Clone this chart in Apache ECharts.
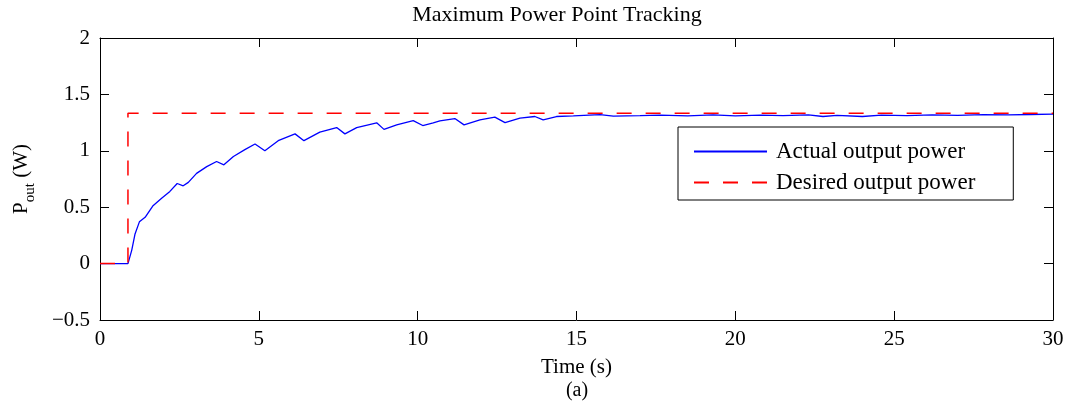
<!DOCTYPE html>
<html>
<head>
<meta charset="utf-8">
<script src="https://cdn.jsdelivr.net/npm/echarts@6/dist/echarts.min.js"></script>
<style>
  html, body { margin: 0; padding: 0; background: #fff; }
  #chart { width: 1069px; height: 411px; }
</style>
</head>
<body>
<div id="chart"></div>
<script>
// Measured output power of the MPPT controller (time in s, power in W)
const timeSec = [0, 0.88, 1.0, 1.1, 1.24, 1.42, 1.66, 1.94, 2.2, 2.43, 2.62, 2.78, 3.04, 3.36, 3.67, 3.9,
  4.2, 4.56, 4.88, 5.19, 5.61, 6.14, 6.42, 6.92, 7.45, 7.71, 8.08, 8.71, 8.94, 9.34, 9.86, 10.16,
  10.49, 10.7, 11.17, 11.46, 11.96, 12.43, 12.75, 13.22, 13.69, 13.95, 14.37, 14.9, 15.74, 16.16,
  17.0, 17.63, 18.5, 19.3, 20.0, 20.8, 21.5, 22.3, 22.76, 23.2, 24.0, 24.6, 25.4, 26.2, 27.0,
  27.8, 28.6, 29.3, 30];
const actualPower = [0, 0, 0.12, 0.26, 0.37, 0.41, 0.51, 0.58, 0.64, 0.71, 0.69, 0.72, 0.80, 0.86, 0.905, 0.876,
  0.95, 1.01, 1.06, 1.0, 1.09, 1.15, 1.09, 1.165, 1.206, 1.15, 1.206, 1.248, 1.19, 1.23, 1.268, 1.224,
  1.248, 1.265, 1.286, 1.23, 1.274, 1.298, 1.25, 1.29, 1.304, 1.274, 1.304, 1.31, 1.32, 1.307,
  1.312, 1.316, 1.31, 1.318, 1.31, 1.316, 1.312, 1.318, 1.304, 1.314, 1.304, 1.316, 1.312, 1.318, 1.314,
  1.32, 1.318, 1.322, 1.325];

// Reference (desired) output power: step at t = 0.88 s
const desiredTime = [0, 0.88, 0.88, 30];
const desiredPower = [0, 0, 1.333, 1.333];

const seriesNames = ['Actual output power', 'Desired output power'];
const chartTitle = 'Maximum Power Point Tracking';
const xTitle = 'Time (s)';
const caption = '(a)';

const FONT = '"Liberation Serif", "Times New Roman", serif';

const zip = (xs, ys) => xs.map((x, i) => [x, ys[i]]);
const minusFmt = v => String(v).replace('-', '\u2212');

const baseAxis = {
  axisLine: { show: true, onZero: false, lineStyle: { color: '#000', width: 1 } },
  axisTick: { show: true, inside: true, length: 9, lineStyle: { color: '#000', width: 1 } },
  splitLine: { show: false }
};

const chart = echarts.init(document.getElementById('chart'), null, { renderer: 'canvas' });
chart.setOption({
  backgroundColor: '#fff',
  animation: false,
  textStyle: { fontFamily: FONT, color: '#000' },
  graphic: [
    {
      type: 'text', x: 557, y: 4,
      style: { text: chartTitle, font: '22px ' + FONT, fill: '#000', align: 'center', verticalAlign: 'top' }
    },
    {
      type: 'text', x: 577, y: 381,
      style: { text: caption, font: '20px ' + FONT, fill: '#000', align: 'center', verticalAlign: 'top' }
    }
  ],
  grid: { left: 100, right: 16, top: 38, bottom: 91, containLabel: false },
  legend: {
    orient: 'vertical',
    left: 678, top: 127,
    padding: [13, 38, 6, 15],
    itemGap: 8,
    itemWidth: 73, itemHeight: 14,
    backgroundColor: '#fff',
    borderColor: '#000', borderWidth: 1, borderRadius: 0,
    itemStyle: { opacity: 0 },
    textStyle: { fontFamily: FONT, fontSize: 23, color: '#000', padding: [0, 0, 0, 4] },
    data: seriesNames
  },
  xAxis: [
    Object.assign({}, baseAxis, {
      type: 'value', min: 0, max: 30, interval: 5,
      axisLabel: { fontFamily: FONT, fontSize: 21, color: '#000', margin: 9 },
      name: xTitle, nameLocation: 'middle', nameGap: 37,
      nameTextStyle: { fontFamily: FONT, fontSize: 21, color: '#000' }
    }),
    Object.assign({}, baseAxis, {
      type: 'value', min: 0, max: 30, interval: 5, position: 'top',
      axisLabel: { show: false }
    })
  ],
  yAxis: [
    Object.assign({}, baseAxis, {
      type: 'value', min: -0.5, max: 2, interval: 0.5,
      axisLabel: { fontFamily: FONT, fontSize: 21, color: '#000', margin: 10, formatter: minusFmt },
      name: '{p|P}{sub|out}{p| (W)}', nameLocation: 'middle', nameGap: 62,
      nameTextStyle: {
        fontFamily: FONT, color: '#000',
        rich: {
          p: { fontFamily: FONT, fontSize: 21, color: '#000', verticalAlign: 'bottom', padding: [0, 0, 6, 0] },
          sub: { fontFamily: FONT, fontSize: 15, color: '#000', verticalAlign: 'bottom' }
        }
      }
    }),
    Object.assign({}, baseAxis, {
      type: 'value', min: -0.5, max: 2, interval: 0.5, position: 'right',
      axisLabel: { show: false }
    })
  ],
  series: [
    {
      name: seriesNames[0], type: 'line', data: zip(timeSec, actualPower),
      symbol: 'none', smooth: false, z: 2,
      lineStyle: { color: '#0000ff', width: 1.3 }, itemStyle: { color: '#0000ff' }
    },
    {
      name: seriesNames[1], type: 'line', data: zip(desiredTime, desiredPower),
      symbol: 'none', smooth: false, z: 3,
      lineStyle: { color: '#ff0000', width: 1.5, type: [15, 14] }, itemStyle: { color: '#ff0000' }
    }
  ]
});
</script>
</body>
</html>
